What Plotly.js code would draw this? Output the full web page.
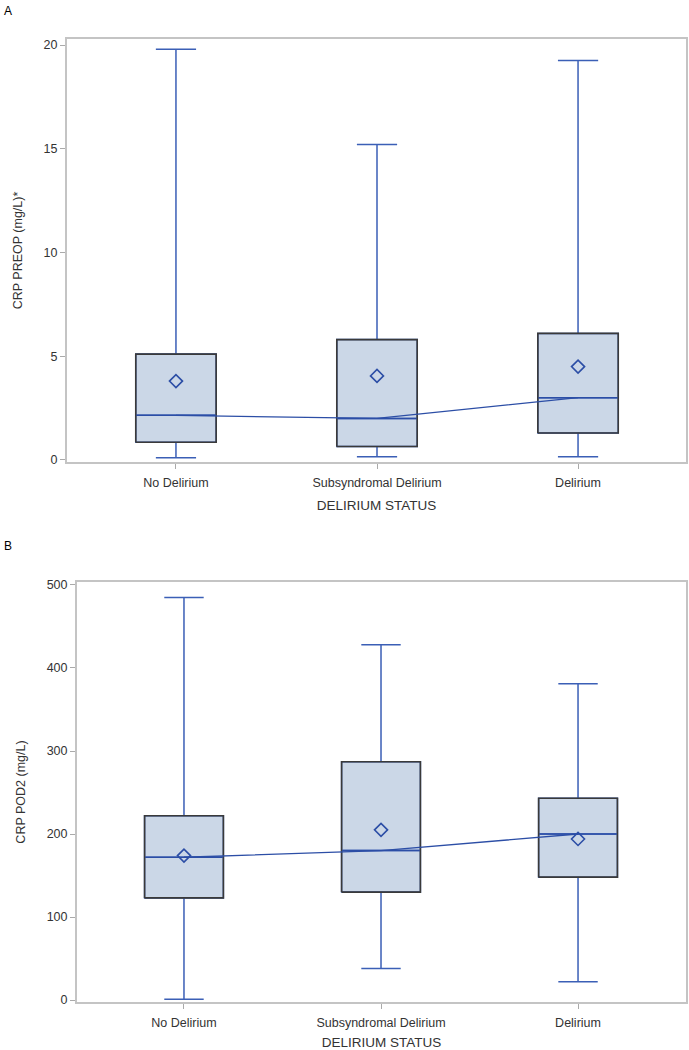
<!DOCTYPE html>
<html>
<head>
<meta charset="utf-8">
<script src="https://cdn.plot.ly/plotly-3.0.1.min.js"></script>
<style>html,body{margin:0;padding:0;background:#fff;}#chart{width:689px;height:1050px;}</style>
</head>
<body>
<div id="chart"></div>
<script>
// Categories
const categories = ["No Delirium", "Subsyndromal Delirium", "Delirium"];

// Panel A: CRP PREOP (mg/L)
const preopMin    = [0.1, 0.15, 0.15];
const preopQ1     = [0.85, 0.65, 1.3];
const preopMedian = [2.15, 2.0, 3.0];
const preopQ3     = [5.1, 5.8, 6.1];
const preopMax    = [19.8, 15.2, 19.25];
const preopMean   = [3.8, 4.05, 4.5];

// Panel B: CRP POD2 (mg/L)
const pod2Min    = [1, 38, 22];
const pod2Q1     = [123, 130, 148];
const pod2Median = [172, 180, 200];
const pod2Q3     = [222, 287, 243];
const pod2Max    = [485, 428, 381];
const pod2Mean   = [174, 205, 194];

const BLUE = "#3b5fb6";
const DARKBLUE = "#2c4ea6";
const FILL = "#cbd7e7";
const OUTLINE = "#3a3a3a";
const BOXW = 0.4;

const idx = categories.map((c, i) => i);

function panel(xa, ya, mn, q1, med, q3, mx, mean) {
  const tr = [];
  tr.push({
    type: "box", x: idx, q1: q1, median: med, q3: q3,
    lowerfence: mn, upperfence: mx,
    width: BOXW, whiskerwidth: 0.5,
    fillcolor: FILL, line: {color: BLUE, width: 1.5},
    xaxis: xa, yaxis: ya, hoverinfo: "skip", showlegend: false
  });
  // dark outline around each box
  const ox = [], oy = [];
  idx.forEach(i => {
    ox.push(i - BOXW/2, i + BOXW/2, i + BOXW/2, i - BOXW/2, i - BOXW/2, null);
    oy.push(q1[i], q1[i], q3[i], q3[i], q1[i], null);
  });
  tr.push({type: "scatter", mode: "lines", x: ox, y: oy,
    line: {color: OUTLINE, width: 1.6}, xaxis: xa, yaxis: ya,
    hoverinfo: "skip", showlegend: false});
  // blue median lines
  const mx2 = [], my2 = [];
  idx.forEach(i => {
    mx2.push(i - BOXW/2 + 0.004, i + BOXW/2 - 0.004, null);
    my2.push(med[i], med[i], null);
  });
  tr.push({type: "scatter", mode: "lines", x: mx2, y: my2,
    line: {color: DARKBLUE, width: 1.5}, xaxis: xa, yaxis: ya,
    hoverinfo: "skip", showlegend: false});
  // connect line through medians
  tr.push({type: "scatter", mode: "lines", x: idx, y: med,
    line: {color: DARKBLUE, width: 1.3}, xaxis: xa, yaxis: ya,
    hoverinfo: "skip", showlegend: false});
  // mean markers
  tr.push({type: "scatter", mode: "markers", x: idx, y: mean,
    marker: {symbol: "diamond-open", size: 10, color: DARKBLUE, line: {width: 1.6, color: DARKBLUE}},
    xaxis: xa, yaxis: ya, hoverinfo: "skip", showlegend: false});
  return tr;
}

const data = [].concat(
  panel("x", "y", preopMin, preopQ1, preopMedian, preopQ3, preopMax, preopMean),
  panel("x2", "y2", pod2Min, pod2Q1, pod2Median, pod2Q3, pod2Max, pod2Mean)
);

const FAM = "Liberation Sans, Arial, sans-serif";
const tickFont = {family: FAM, size: 12.5, color: "#333"};
const xTitleFont = {family: FAM, size: 13.5, color: "#333"};
const yTitleFont = {family: FAM, size: 12.5, color: "#333"};

function xAxis(domain, range, anchor, standoff) {
  return {
    domain: domain, range: range, anchor: anchor,
    tickmode: "array", tickvals: idx, ticktext: categories,
    ticks: "outside", ticklen: 5, tickcolor: "#aaa", tickwidth: 1,
    ticklabelstandoff: 3,
    showgrid: false, zeroline: false,
    showline: true, linecolor: "#c4c4c4", linewidth: 2, mirror: true,
    tickfont: tickFont,
    title: {text: "DELIRIUM STATUS", font: xTitleFont, standoff: standoff}
  };
}
function yAxis(domain, range, anchor, title, dtick) {
  return {
    domain: domain, range: range, anchor: anchor,
    tickmode: "linear", tick0: 0, dtick: dtick,
    ticks: "outside", ticklen: 5, tickcolor: "#aaa", tickwidth: 1,
    showgrid: false, zeroline: false,
    showline: true, linecolor: "#c4c4c4", linewidth: 2, mirror: true,
    tickfont: tickFont,
    title: {text: title, font: yTitleFont, standoff: 18}
  };
}

const W = 689, H = 1050;
const layout = {
  width: W, height: H,
  margin: {l: 0, r: 0, t: 0, b: 0},
  paper_bgcolor: "#fff", plot_bgcolor: "#fff",
  showlegend: false,
  xaxis: xAxis([67/W, 686/W], [-0.542, 2.537], "y", 12),
  yaxis: yAxis([1 - 462/H, 1 - 39/H], [-0.1, 20.29], "x", "CRP PREOP (mg/L)*", 5),
  xaxis2: xAxis([77/W, 686/W], [-0.543, 2.548], "y2", 10),
  yaxis2: yAxis([1 - 1002/H, 1 - 582/H], [-2.4, 503.6], "x2", "CRP POD2 (mg/L)", 100),
  annotations: [
    {text: "A", xref: "paper", yref: "paper", x: 2/W, y: 1 - 2/H, xanchor: "left", yanchor: "top",
     showarrow: false, font: {family: FAM, size: 12, color: "#000"}},
    {text: "B", xref: "paper", yref: "paper", x: 2/W, y: 1 - 537/H, xanchor: "left", yanchor: "top",
     showarrow: false, font: {family: FAM, size: 12, color: "#000"}}
  ]
};

Plotly.newPlot("chart", data, layout, {displayModeBar: false, staticPlot: true});
</script>
</body>
</html>
